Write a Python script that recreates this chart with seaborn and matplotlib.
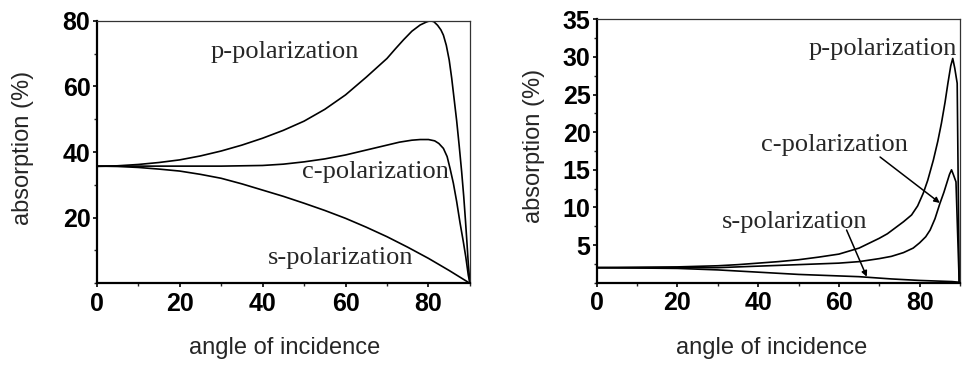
import matplotlib
matplotlib.use("Agg")
import matplotlib.pyplot as plt
import seaborn as sns
import pandas as pd
from matplotlib.ticker import MultipleLocator

# ---------------- data ----------------
# left panel
ang_p_left = [0, 5, 10, 15, 20, 25, 30, 35, 40, 45, 50, 55, 60, 65, 70, 72, 74, 76, 78, 79.5,
              80.4, 81.3, 82.2, 83, 83.6, 84.3, 85, 85.6, 86.2, 86.8, 87.4, 88, 88.5, 88.9, 89.3, 89.6, 90]
p_left = [35.6, 35.8, 36.2, 36.8, 37.6, 38.8, 40.3, 42.1, 44.2, 46.6, 49.4, 53.0, 57.4, 62.8, 68.5, 71.4,
          74.2, 76.8, 78.7, 79.6, 80.0, 79.7, 78.6, 77.2, 75.6, 72.5, 68.0, 62.5, 56.0, 49.5, 42.0, 34.0,
          26.5, 19.5, 12.0, 6.0, 0]
ang_c_left = [0, 10, 20, 30, 40, 45, 50, 55, 60, 65, 70, 73, 76, 78, 80, 81.5, 82.5, 83.6, 84.5,
              85.2, 86, 86.8, 87.6, 88.4, 89, 89.6, 90]
c_left = [35.7, 35.7, 35.7, 35.7, 35.9, 36.3, 37.0, 37.9, 39.1, 40.6, 42.1, 43.0, 43.6, 43.8, 43.8,
          43.4, 42.6, 41.1, 38.6, 35.0, 30.5, 24.9, 18.5, 12.7, 8.0, 2.5, 0]
ang_s_left = [0, 5, 10, 15, 20, 25, 30, 35, 40, 45, 50, 55, 60, 65, 70, 75, 80, 85, 90]
s_left = [35.7, 35.6, 35.3, 34.8, 34.2, 33.2, 32.0, 30.3, 28.4, 26.5, 24.4, 22.2, 19.8, 17.1, 14.2,
          11.0, 7.6, 3.9, 0]

# right panel
ang_p_right = [0, 10, 20, 30, 35, 40, 45, 50, 55, 60, 65, 70, 72, 74, 76, 78, 79.5, 80.9, 82, 83.4,
               84.5, 85.4, 86.3, 87, 87.7, 88.2, 88.7, 89.3, 89.8]
p_right = [2.0, 2.05, 2.1, 2.25, 2.4, 2.6, 2.8, 3.05, 3.4, 3.8, 4.6, 5.9, 6.5, 7.3, 8.1, 9.0, 10.2, 11.9,
           13.6, 16.3, 18.8, 21.2, 24.0, 26.5, 28.8, 29.8, 28.5, 26.5, 0]
ang_c_right = [0, 30, 40, 50, 60, 65, 70, 73, 76, 78.4, 80, 81.5, 82.6, 83.8, 85, 86, 86.7, 87.4,
               87.9, 88.4, 89.0, 89.8]
c_right = [2.0, 2.0, 2.2, 2.4, 2.6, 2.8, 3.2, 3.5, 4.0, 4.6, 5.3, 6.1, 7.0, 8.5, 10.5, 12.0, 13.2,
           14.4, 15.0, 14.3, 13.4, 0]
ang_s_right = [0, 20, 30, 40, 50, 60, 65, 73, 80, 88, 90]
s_right = [2.0, 1.9, 1.7, 1.4, 1.1, 0.9, 0.8, 0.5, 0.3, 0.15, 0.05]

labels = ["p-polarization", "c-polarization", "s-polarization"]
xticks = [0, 20, 40, 60, 80]
yticks_left = [20, 40, 60, 80]
yticks_right = [5, 10, 15, 20, 25, 30, 35]
xlabel = "angle of incidence"
ylabel = "absorption (%)"

# ---------------- style ----------------
sns.set_style("ticks")
plt.rcParams["font.family"] = ["Liberation Sans", "DejaVu Sans"]

fig = plt.figure(figsize=(9.63, 3.67), dpi=100)
axL = fig.add_axes([0.1004, 0.228, 0.3876, 0.7156])
axR = fig.add_axes([0.6196, 0.2297, 0.3773, 0.7177])

def draw(ax, series):
    for ang, val in series:
        df = pd.DataFrame({"angle": ang, "value": val})
        sns.lineplot(data=df, x="angle", y="value", ax=ax, color="black",
                     linewidth=1.2, estimator=None, sort=False)

draw(axL, [(ang_p_left, p_left), (ang_c_left, c_left), (ang_s_left, s_left)])
draw(axR, [(ang_p_right, p_right), (ang_c_right, c_right), (ang_s_right, s_right)])

def style(ax, ylim, yticks, ymin_step, lx, ly, ylx, yly):
    ax.set_xlim(0, 90)
    ax.set_ylim(*ylim)
    ax.set_xticks(xticks)
    ax.set_yticks(yticks)
    ax.xaxis.set_minor_locator(MultipleLocator(10))
    ax.yaxis.set_minor_locator(MultipleLocator(ymin_step))
    ax.tick_params(axis="both", which="major", direction="out", length=3, width=1.2,
                   labelsize=18, colors="black")
    ax.tick_params(axis="x", which="major", pad=3)
    ax.tick_params(axis="y", which="major", pad=1.5)
    ax.tick_params(axis="both", which="minor", direction="out", length=2, width=1.0)
    for lab in ax.get_xticklabels() + ax.get_yticklabels():
        lab.set_fontweight("bold")
    for side in ["left", "bottom"]:
        ax.spines[side].set_linewidth(1.6)
        ax.spines[side].set_color("black")
    for side in ["top", "right"]:
        ax.spines[side].set_visible(True)
        ax.spines[side].set_linewidth(0.9)
        ax.spines[side].set_color("#333333")
    ax.set_xlabel(xlabel, fontsize=17)
    ax.set_ylabel(ylabel, fontsize=17)
    ax.xaxis.set_label_coords(lx, ly)
    ax.yaxis.set_label_coords(ylx, yly)

style(axL, (0, 80), yticks_left, 10, 0.504, -0.205, -0.169, 0.517)
style(axR, (0, 35), yticks_right, 2.5, 0.482, -0.205, -0.142, 0.52)

serif = ["Liberation Serif", "DejaVu Serif"]
fs = 19
axL.text(45.4, 70.5, labels[0], family=serif, fontsize=fs, ha="center", va="center")
axL.text(67.1, 33.8, labels[1], family=serif, fontsize=fs, ha="center", va="center")
axL.text(58.7, 7.6, labels[2], family=serif, fontsize=fs, ha="center", va="center")

axR.text(70.9, 31.0, labels[0], family=serif, fontsize=fs, ha="center", va="center")
axR.text(59.0, 18.3, labels[1], family=serif, fontsize=fs, ha="center", va="center")
axR.text(49.1, 8.1, labels[2], family=serif, fontsize=fs, ha="center", va="center")
arrow = dict(arrowstyle="-|>", color="black", lw=1.1, mutation_scale=8, shrinkA=0, shrinkB=0)
axR.annotate("", xy=(85.0, 10.6), xytext=(70.2, 16.7), arrowprops=arrow)
axR.annotate("", xy=(66.9, 0.8), xytext=(61.9, 7.0), arrowprops=arrow)

fig.savefig("out.png", dpi=100)
